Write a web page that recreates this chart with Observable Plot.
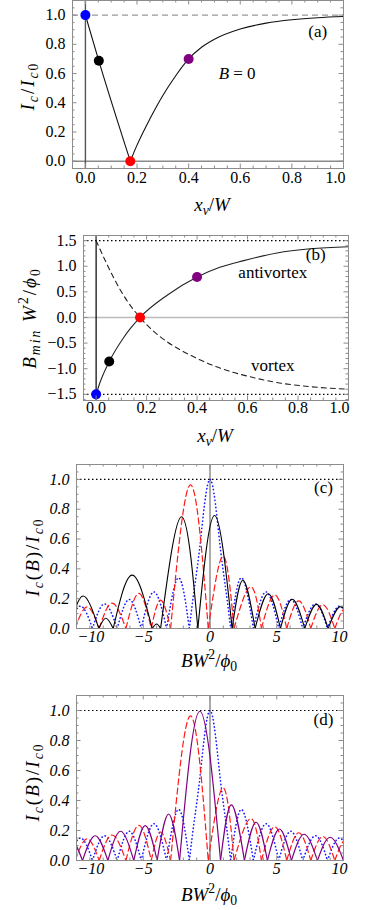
<!DOCTYPE html>
<html><head><meta charset="utf-8">
<script src="https://cdn.jsdelivr.net/npm/d3@7"></script>
<script src="https://cdn.jsdelivr.net/npm/@observablehq/plot@0.6"></script>
<style>
html,body{margin:0;padding:0;background:#fff;}
#wrap{position:relative;width:376px;height:910px;overflow:hidden;font-family:"Liberation Serif","Times New Roman",serif;}
.lab{position:absolute;font-size:19px;white-space:nowrap;line-height:1;transform:translate(-50%,-50%);color:#000;}
.lab.rot{transform:translate(-50%,-50%) rotate(-90deg);letter-spacing:2px;}
.lab sub,.lab sup{font-size:0.72em;line-height:0;}
</style></head><body><div id="wrap"></div>
<script>
const FONT = '"Liberation Serif","Times New Roman",serif';

// ---- marked points (panels a, b) ----
const ptColors = ["#0000ff", "#000000", "#ff0000", "#800080"];
const ptXv   = [0, 0.052, 0.174, 0.4];
const ptIc   = [1.0, 0.687, 0.0, 0.70];
const ptBmin = [-1.5, -0.86, 0.0, 0.79];

// ---- panel (a) curve Ic/Ic0 vs xv/W ----
const icCurve = [[0,1],[0.052,0.687],[0.174,0],[0.2,0.11],[0.25,0.29],[0.3,0.45],[0.35,0.585],[0.4,0.70],[0.45,0.78],[0.5,0.835],[0.6,0.905],[0.7,0.945],[0.8,0.968],[0.9,0.982],[1.0,0.99]];

// ---- panel (b) curves Bmin W^2/phi0 ----
const antivortexCurve = [[0,-1.5],[0.016,-1.26],[0.052,-0.86],[0.108,-0.40],[0.174,0],[0.28,0.43],[0.4,0.79],[0.49,0.98],[0.585,1.11],[0.717,1.26],[0.849,1.34],[1.0,1.38]];
const vortexCurve = [[0,1.5],[0.042,1.05],[0.082,0.66],[0.122,0.33],[0.174,0],[0.228,-0.27],[0.28,-0.47],[0.333,-0.63],[0.4,-0.80],[0.47,-0.95],[0.55,-1.08],[0.63,-1.18],[0.717,-1.27],[0.849,-1.35],[1.0,-1.40]];

// ---- panels (c), (d): Ic(B)/Ic0 vs BW^2/phi0 (zeros and lobe maxima) ----
const blueIc = [[-10.6,0],[-9.7,0.15],[-8.8,0],[-7.9,0.165],[-6.95,0],[-6.05,0.195],[-5.15,0],[-4.2,0.245],[-3.25,0],[-2.35,0.34],[-1.55,0],[-1.2,0.25],[-0.8,0.52],[-0.4,0.84],[0,1.0],[0.4,0.84],[0.8,0.52],[1.2,0.25],[1.55,0],[2.35,0.34],[3.25,0],[4.2,0.245],[5.15,0],[6.05,0.195],[6.95,0],[7.9,0.165],[8.8,0],[9.7,0.15],[10.6,0]];
const redIc = [[-10.1,0],[-9.2,0.145],[-8.3,0],[-7.33,0.17],[-6.3,0],[-5.33,0.235],[-4.4,0],[-3.7,0.19],[-2.95,0],[-1.46,0.964],[-0.13,0],[0.98,0.485],[1.8,0],[3.05,0.28],[3.85,0],[4.85,0.225],[5.75,0],[6.65,0.185],[7.55,0],[8.45,0.16],[9.35,0],[10.2,0.14],[11.05,0]];
const blackIc = [[-10.5,0],[-9.5,0.218],[-8.33,0],[-7.8,0.069],[-7.25,0],[-5.83,0.358],[-4.33,0],[-4.0,0.03],[-3.7,0],[-2.13,0.75],[-0.91,0],[0.34,0.758],[1.66,0],[2.46,0.324],[3.38,0],[4.36,0.233],[5.28,0],[6.16,0.196],[7.1,0],[7.98,0.162],[8.85,0],[9.78,0.147],[10.7,0]];
const purpleIc = [[-11.4,0],[-10.5,0.15],[-9.55,0],[-8.6,0.165],[-7.65,0],[-6.7,0.195],[-5.71,0],[-4.85,0.232],[-3.96,0],[-3.1,0.31],[-2.28,0],[-0.76,0.995],[0.79,0],[1.6,0.371],[2.58,0],[3.45,0.255],[4.3,0],[5.2,0.21],[6.1,0],[7.05,0.175],[8.05,0],[9.0,0.155],[10.0,0]];

// ---- tick labels ----
const xTicksAB = [0, 0.2, 0.4, 0.6, 0.8, 1.0];
const yTicksA  = [0, 0.2, 0.4, 0.6, 0.8, 1.0];
const yTicksB  = [-1.5, -1.0, -0.5, 0, 0.5, 1.0, 1.5];
const xTicksCD = [-10, -5, 0, 5, 10];
const yTicksCD = [0, 0.2, 0.4, 0.6, 0.8, 1.0];

// ---- annotations ----
const annA = [{t: "(a)", x: 0.9, y: 0.885}];
const annB = [{t: "(b)", x: 0.87, y: 1.23}, {t: "antivortex", x: 0.70, y: 0.87}, {t: "vortex", x: 0.70, y: -0.93}];
const annC = [{t: "(c)", x: 8.5, y: 0.945}];
const annD = [{t: "(d)", x: 8.5, y: 0.94}];

const wrap = document.getElementById("wrap");
const f1 = d3.format(".1f"), fd = d3.format("d");

// split a curve into lobes at its zeros
function lobes(pts, name) {
  const rows = []; let k = 0;
  pts.forEach(([x, y], i) => {
    rows.push({x, y, k: name + k});
    if (y === 0 && i > 0 && i < pts.length - 1) { k++; rows.push({x, y, k: name + k}); }
  });
  return rows;
}
function rows(pts) { return pts.map(([x, y]) => ({x, y})); }
function minor(lo, hi, step, major) {
  return d3.range(Math.round(lo / step), Math.round(hi / step) + 1).map(i => i * step)
    .filter(v => v > lo + 1e-9 && v < hi - 1e-9 && !major.some(m => Math.abs(m - v) < 1e-9));
}

function panel(o) {
  const mt = 12, mb = 34;
  const innerH = o.frameBottom - o.frameTop;
  const innerW = o.frameRight - o.frameLeft;
  const tc = "#8c8c8c";
  const fs = o.italic ? "italic" : "normal";
  const xm = minor(o.xDomain[0], o.xDomain[1], o.xStep, o.xMajor);
  const ym = minor(o.yDomain[0], o.yDomain[1], o.yStep, o.yMajor);
  const xs = o.xMajor;
  const startT = o.anchorStart ? [xs[0]] : [];
  const endT = [xs[xs.length - 1]];
  const midT = xs.filter(v => !startT.includes(v) && !endT.includes(v));
  const tick = {frameAnchor: "bottom", dy: o.xdy, fontSize: 16, fontStyle: fs, fontFamily: FONT, fill: "#000"};
  const svg = Plot.plot({
    width: 376, height: innerH + mt + mb,
    marginTop: mt, marginBottom: mb, marginLeft: o.frameLeft, marginRight: 376 - o.frameRight,
    x: {domain: o.xDomain, axis: null},
    y: {domain: o.yDomain, axis: null},
    color: {type: "identity"},
    style: {background: "transparent", overflow: "visible", fontFamily: FONT},
    marks: [
      ...o.marks,
      Plot.ruleX(o.xMajor, {x: d => d, insetTop: innerH - 4.5, stroke: tc}),
      Plot.ruleX(o.xMajor, {x: d => d, insetBottom: innerH - 4.5, stroke: tc}),
      Plot.ruleX(xm, {x: d => d, insetTop: innerH - 2.5, stroke: tc}),
      Plot.ruleX(xm, {x: d => d, insetBottom: innerH - 2.5, stroke: tc}),
      Plot.ruleY(o.yMajor, {y: d => d, insetRight: innerW - 4.5, stroke: tc}),
      Plot.ruleY(o.yMajor, {y: d => d, insetLeft: innerW - 4.5, stroke: tc}),
      Plot.ruleY(ym, {y: d => d, insetRight: innerW - 2.5, stroke: tc}),
      Plot.ruleY(ym, {y: d => d, insetLeft: innerW - 2.5, stroke: tc}),
      Plot.frame({stroke: tc}),
      Plot.text(midT, {x: d => d, text: o.xFmt, ...tick}),
      Plot.text(startT, {x: d => d, text: o.xFmt, textAnchor: "start", dx: 1, ...tick}),
      Plot.text(endT, {x: d => d, text: o.xFmt, textAnchor: "end", dx: o.endDx, ...tick}),
      Plot.text(o.yMajor, {y: d => d, text: o.yFmt, frameAnchor: "left", dx: -7, textAnchor: "end", fontSize: 16, fontStyle: fs, fontFamily: FONT, fill: "#000"}),
      Plot.text(o.ann, {x: "x", y: "y", text: "t", fontSize: 17, fontFamily: FONT, fill: "#000"})
    ]
  });
  svg.style.position = "absolute";
  svg.style.left = "0px";
  svg.style.top = (o.frameTop - mt) + "px";
  wrap.append(svg);
}

const ptIdx = ptXv.map((_, i) => i);

// (a)
panel({
  frameTop: 0, frameBottom: 168, frameLeft: 72, frameRight: 343,
  xDomain: [-0.05, 1.0], yDomain: [-0.05, 1.1], xStep: 0.05, yStep: 0.05,
  xMajor: xTicksAB, yMajor: yTicksA, xFmt: f1, yFmt: f1, xdy: 14, italic: false, ann: annA,
  anchorStart: false, endDx: 2,
  marks: [
    Plot.ruleY([1], {stroke: "#999", strokeWidth: 1.3, strokeDasharray: "6,4"}),
    Plot.ruleY([0], {stroke: "#8a8a8a", strokeWidth: 1.4}),
    Plot.ruleX([0], {stroke: "#555", strokeWidth: 1.4}),
    Plot.line(lobes(icCurve, "a"), {x: "x", y: "y", z: "k", curve: "monotone-x", stroke: "#111", strokeWidth: 1.1}),
    Plot.dot(ptIdx, {x: i => ptXv[i], y: i => ptIc[i], fill: i => ptColors[i], r: 5}),
    Plot.text(["B"], {x: [0.557], y: [0.60], text: d => d, textAnchor: "end", fontStyle: "italic", fontSize: 17, fontFamily: FONT, fill: "#000"}),
    Plot.text(["= 0"], {x: [0.557], y: [0.60], text: d => d, textAnchor: "start", dx: 4, fontSize: 17, fontFamily: FONT, fill: "#000"})
  ]
});

// (b)
panel({
  frameTop: 235, frameBottom: 400, frameLeft: 83, frameRight: 348,
  xDomain: [-0.05, 1.0], yDomain: [-1.62, 1.6], xStep: 0.05, yStep: 0.1,
  xMajor: xTicksAB, yMajor: yTicksB, xFmt: f1, yFmt: f1, xdy: 12, italic: false, ann: annB,
  anchorStart: false, endDx: 1,
  marks: [
    Plot.ruleY([1.5, -1.5], {stroke: "#000", strokeWidth: 1.1, strokeDasharray: "1.5,2.5"}),
    Plot.ruleY([0], {stroke: "#bbb", strokeWidth: 1.4}),
    Plot.ruleX([0], {stroke: "#000", strokeWidth: 1.2}),
    Plot.line(rows(vortexCurve), {x: "x", y: "y", curve: "monotone-x", stroke: "#222", strokeWidth: 1.1, strokeDasharray: "5,4"}),
    Plot.line(rows(antivortexCurve), {x: "x", y: "y", curve: "monotone-x", stroke: "#222", strokeWidth: 1.1}),
    Plot.dot(ptIdx, {x: i => ptXv[i], y: i => ptBmin[i], fill: i => ptColors[i], r: 5})
  ]
});

function fraunMarks(list) {
  return list.map(([pts, name, style]) =>
    Plot.line(lobes(pts, name), {x: "x", y: "y", z: "k", curve: "natural", clip: true, ...style}));
}
const blueStyle  = {stroke: "#1a1aff", strokeWidth: 1.6, strokeDasharray: "0.3,3.3", strokeLinecap: "round"};
const redStyle   = {stroke: "#ff1a1a", strokeWidth: 1.2, strokeDasharray: "6,3.5"};
const blackStyle = {stroke: "#000", strokeWidth: 1.1};
const purpleStyle= {stroke: "#800080", strokeWidth: 1.2};

// (c)
panel({
  frameTop: 464, frameBottom: 628, frameLeft: 76, frameRight: 343,
  xDomain: [-10, 10], yDomain: [0, 1.1], xStep: 1, yStep: 0.05,
  xMajor: xTicksCD, yMajor: yTicksCD, xFmt: fd, yFmt: f1, xdy: 13, italic: true, ann: annC,
  anchorStart: true, endDx: 4,
  marks: [
    Plot.ruleX([0], {stroke: "#aaa", strokeWidth: 2}),
    Plot.ruleY([1], {stroke: "#000", strokeWidth: 1.1, strokeDasharray: "1.5,2.5"}),
    ...fraunMarks([[blueIc, "b", blueStyle], [redIc, "r", redStyle], [blackIc, "k", blackStyle]])
  ]
});

// (d)
panel({
  frameTop: 695, frameBottom: 860, frameLeft: 76, frameRight: 343,
  xDomain: [-10, 10], yDomain: [0, 1.1], xStep: 1, yStep: 0.05,
  xMajor: xTicksCD, yMajor: yTicksCD, xFmt: fd, yFmt: f1, xdy: 13, italic: true, ann: annD,
  anchorStart: true, endDx: 4,
  marks: [
    Plot.ruleX([0], {stroke: "#aaa", strokeWidth: 2}),
    Plot.ruleY([1], {stroke: "#000", strokeWidth: 1.1, strokeDasharray: "1.5,2.5"}),
    ...fraunMarks([[blueIc, "b", blueStyle], [redIc, "r", redStyle], [purpleIc, "p", purpleStyle]])
  ]
});

// axis titles
const titles = [
  {h: "<i>I</i><sub><i>c</i></sub>/<i>I</i><sub><i>c</i>0</sub>", x: 27, y: 86, rot: true},
  {h: "<i>x</i><sub><i>v</i></sub>/<i>W</i>", x: 212, y: 204},
  {h: "<i>B</i><sub><i>min</i></sub> <i>W</i><sup>2</sup>/<i>ϕ</i><sub>0</sub>", x: 29, y: 318, rot: true},
  {h: "<i>x</i><sub><i>v</i></sub>/<i>W</i>", x: 215, y: 435},
  {h: "<i>I</i><sub><i>c</i></sub>(<i>B</i>)/<i>I</i><sub><i>c</i>0</sub>", x: 32, y: 557, rot: true},
  {h: "<i>BW</i><sup>2</sup>/<i>ϕ</i><sub>0</sub>", x: 209, y: 660},
  {h: "<i>I</i><sub><i>c</i></sub>(<i>B</i>)/<i>I</i><sub><i>c</i>0</sub>", x: 32, y: 782, rot: true},
  {h: "<i>BW</i><sup>2</sup>/<i>ϕ</i><sub>0</sub>", x: 209, y: 894}
];
titles.forEach(t => {
  const d = document.createElement("div");
  d.className = "lab" + (t.rot ? " rot" : "");
  d.style.left = t.x + "px"; d.style.top = t.y + "px";
  d.innerHTML = t.h;
  wrap.append(d);
});
</script></body></html>
